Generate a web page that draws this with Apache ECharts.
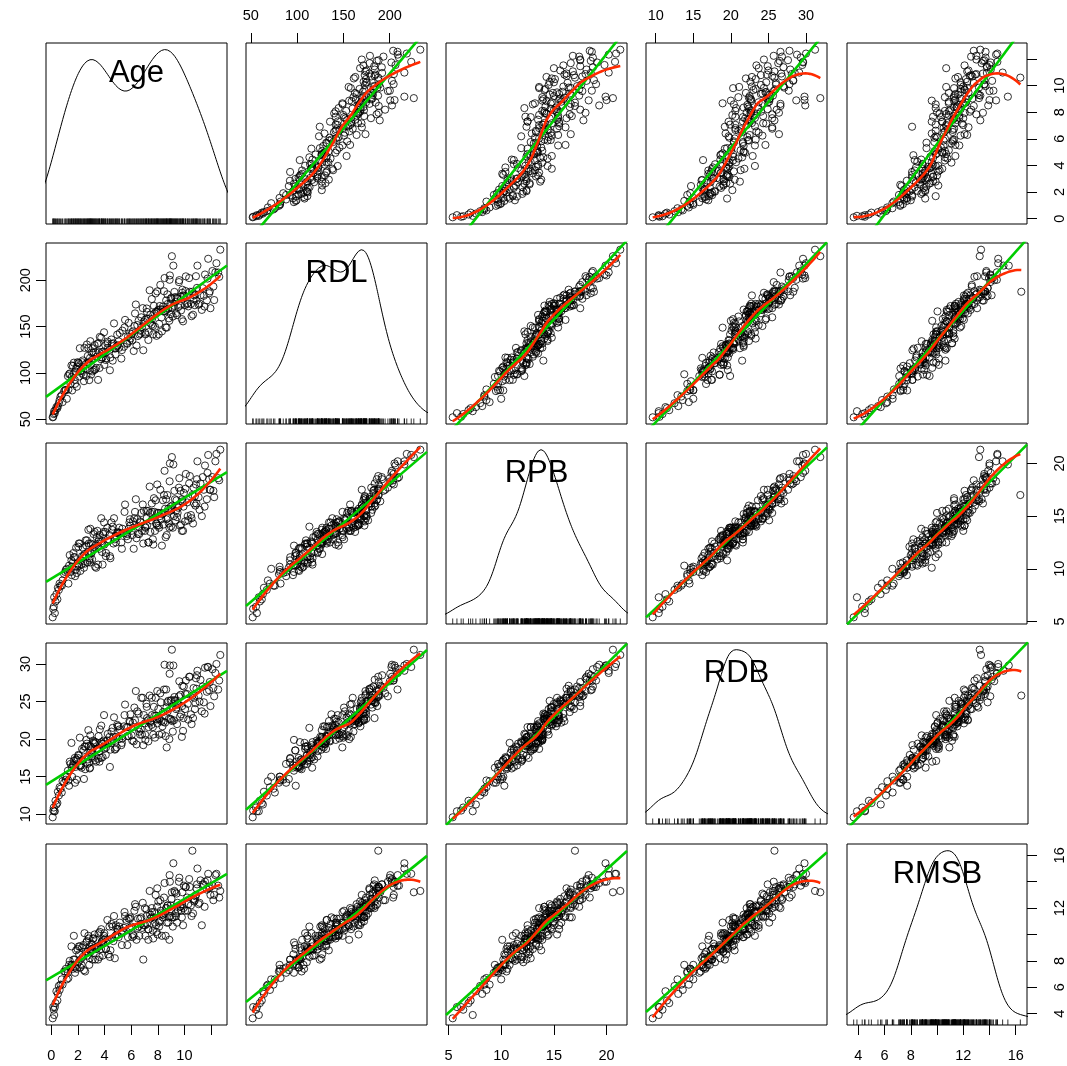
<!DOCTYPE html>
<html><head><meta charset="utf-8">
<script src="https://cdn.jsdelivr.net/npm/echarts@6/dist/echarts.min.js"></script>
<style>html,body{margin:0;padding:0;background:#fff}#c{width:1067px;height:1066px}</style>
</head><body><div id="c"></div>
<script>
const varNames = ['Age','RDL','RPB','RDB','RMSB'];

const Age = [0.10,0.14,0.21,0.26,0.31,0.38,0.49,0.56,0.69,0.84,0.96,
1.04,1.16,1.24,1.33,1.44,1.51,1.56,1.62,1.69,1.76,1.81,1.86,1.91,1.97,
2.03,2.09,2.14,2.21,2.27,2.36,2.41,2.49,2.54,2.63,2.67,2.74,2.81,2.85,2.91,2.93,2.99,
3.02,3.09,3.13,3.21,3.25,3.33,3.37,3.46,3.51,3.59,3.64,3.73,3.77,3.85,3.89,3.96,3.98,
4.06,4.11,4.21,4.27,4.37,4.44,4.56,4.61,4.71,4.77,4.86,4.91,4.99,
5.06,5.14,5.26,5.34,5.46,5.54,5.66,5.71,5.81,5.87,5.94,
6.03,6.13,6.19,6.29,6.35,6.46,6.51,6.61,6.67,6.76,6.81,6.91,6.95,
7.03,7.07,7.15,7.19,7.27,7.31,7.39,7.44,7.53,7.57,7.66,7.71,7.79,7.84,7.91,7.94,7.98,
8.04,8.07,8.15,8.19,8.27,8.31,8.39,8.43,8.51,8.55,8.63,8.67,8.75,8.79,8.87,8.91,8.97,8.99,
9.06,9.09,9.17,9.21,9.29,9.33,9.41,9.45,9.53,9.59,9.67,9.71,9.81,9.85,9.93,9.96,
10.05,10.11,10.21,10.29,10.41,10.49,10.60,10.65,10.73,10.79,10.87,10.91,10.98,
11.07,11.21,11.31,11.46,11.55,11.69,11.79,11.91,11.96,
12.11,12.24,12.41,12.54,12.70,
0.18,0.45,0.62,0.78, 1.09,1.28,1.38,1.53,1.66,1.78,1.93,
2.06,2.18,2.31,2.45,2.58,2.71,2.78,2.88,2.96, 3.06,3.17,3.29,3.41,3.55,3.62,3.75,3.81,3.93,
4.09,4.24,4.40,4.52,4.66,4.82,4.95, 5.10,5.30,5.50,5.76,5.91, 6.08,6.24,6.40,6.56,6.72,6.87,
7.05,7.17,7.29,7.42,7.55,7.63,7.75,7.87,7.96, 8.10,8.23,8.35,8.47,8.59,8.65,8.72,8.83,8.89,8.95,
9.03,9.13,9.25,9.37,9.49,9.62,9.75,9.83,9.90, 10.08,10.25,10.36,10.54,10.69,10.83,10.95,
11.14,11.38,11.52,11.74,11.86, 12.18,12.33,12.62];

const RDL = [52.0,52.5,58.6,56.5,59.7,63.0,64.1,67.2,74.4,68.4,80.3,
81.5,72.0,96.5,98.5,88.0,108.0,81.0,107.5,111.0,92.5,101.5,104.5,85.0,111.5,
110.4,96.0,126.6,101.8,99.8,113.4,97.8,127.0,104.8,96.6,130.6,118.4,111.2,92.2,116.2,134.2,98.2,
122.0,101.6,126.4,103.0,130.0,122.2,105.4,131.2,92.4,122.4,138.8,114.8,116.6,116.6,123.0,143.8,108.6,
129.8,115.6,131.8,127.0,125.0,116.6,131.2,113.2,153.4,126.2,126.6,128.8,129.8,
134.0,143.0,115.4,145.6,128.2,157.2,132.2,131.4,154.0,134.4,137.0,
141.8,144.8,123.6,164.2,173.8,151.6,139.8,141.4,145.6,160.0,149.4,124.4,155.2,
157.2,141.6,158.8,165.8,158.2,144.0,189.2,162.6,152.0,158.4,141.6,172.4,149.8,185.8,140.0,165.2,166.4,
168.0,141.6,172.2,195.0,159.8,144.8,171.6,166.2,202.4,166.6,178.2,148.8,174.4,169.4,156.2,205.2,180.0,163.6,
226.0,169.8,215.8,172.4,181.8,176.6,181.2,162.4,171.0,198.0,172.6,182.2,158.0,189.8,183.6,182.4,
173.2,204.2,174.4,171.8,187.6,174.4,187.6,162.8,183.6,173.0,204.4,178.0,215.8,
173.6,183.8,168.0,183.2,206.2,178.2,223.2,188.0,169.8,
210.0,178.6,218.4,208.4,233.0,
55.5,61.8,70.6,75.9, 81.4,82.1,99.3,95.5,98.7,88.1,106.8,
110.6,102.2,111.5,91.0,109.5,110.9,126.6,102.9,108.8, 114.2,121.8,103.6,117.4,132.3,105.3,138.0,122.4,121.0,
113.9,133.7,102.8,136.0,132.0,119.9,141.3, 127.1,124.6,149.0,139.1,142.7, 135.0,150.6,129.5,156.4,142.3,169.9,
143.5,169.5,135.5,154.0,179.7,150.7,164.1,166.3,188.0, 153.0,168.7,168.3,188.1,149.1,167.9,184.8,158.9,200.5,174.7,
181.2,160.8,187.4,164.4,179.9,200.1,167.4,186.5,155.6, 188.4,175.2,202.4,161.2,180.0,184.5,191.8,
174.9,191.4,171.6,201.8,186.0, 193.2,208.6,203.7];

const RPB = [5.4,6.2,7.3,5.8,6.9,7.6,8.2,8.0,8.4,8.9,9.5,
9.7,10.0,9.7,10.3,9.7,10.8,10.2,10.6,11.1,11.1,9.9,12.0,9.6,10.5,
12.1,10.3,12.4,10.8,10.4,12.0,11.2,11.4,10.5,12.2,12.7,11.6,12.4,10.8,10.6,13.8,11.5,
11.5,11.9,12.3,12.0,13.5,12.2,10.1,13.6,10.4,12.8,13.2,12.6,12.4,10.4,13.3,14.4,12.3,
13.5,11.5,13.9,12.6,13.2,11.0,13.7,14.0,14.8,12.8,12.5,13.1,13.5,
13.4,13.4,12.5,13.8,13.4,16.1,13.1,13.3,13.8,14.4,14.1,
13.6,14.5,11.9,15.4,16.6,14.7,13.3,13.3,14.5,15.3,13.6,12.4,15.5,
13.6,13.9,15.5,14.1,15.5,12.5,17.8,13.5,14.6,15.4,12.3,16.7,13.6,16.5,14.3,14.1,15.3,
15.3,14.1,15.0,17.5,14.7,12.2,16.5,14.2,19.3,15.7,16.6,13.2,14.8,15.7,13.9,20.0,15.9,14.0,
20.6,16.0,19.9,15.0,16.6,14.6,16.5,14.9,15.8,17.7,14.1,17.4,13.6,16.4,15.9,17.2,
14.5,19.0,16.3,14.6,18.8,15.1,17.0,14.3,16.2,16.9,18.0,16.2,20.2,
16.8,18.1,15.0,17.5,19.8,16.6,20.8,17.5,17.5,
18.7,16.8,20.9,18.6,21.3,
6.4,7.1,8.6,8.4, 9.9,8.6,11.3,9.4,11.5,9.3,10.2,
12.4,9.8,11.2,10.1,12.7,10.6,13.7,11.0,12.4, 10.9,13.3,10.2,13.0,12.6,11.9,14.8,11.6,13.5,
11.2,12.8,11.2,14.4,12.4,13.1,13.4, 13.9,11.9,15.4,12.8,14.7, 13.2,14.8,12.9,14.0,14.4,16.1,
14.0,14.8,12.5,15.3,16.2,12.8,15.4,14.3,18.0, 13.9,15.3,15.2,17.0,13.0,14.7,17.0,14.3,18.3,15.5,
15.6,13.9,17.4,15.5,15.3,18.6,14.2,16.6,13.6, 17.6,15.0,18.1,14.8,17.7,16.0,18.5,
15.6,18.7,15.9,19.1,18.5, 17.4,20.2,18.4];

const RDB = [9.6,10.5,10.4,10.4,11.8,11.3,13.0,12.5,13.4,14.4,14.2,
15.0,15.0,15.8,13.8,16.7,19.5,15.0,16.6,17.1,17.5,16.3,17.3,14.6,17.5,
17.9,16.5,20.2,16.5,16.2,17.2,18.5,19.0,16.0,19.9,19.4,17.3,19.1,16.9,16.2,20.5,18.5,
17.7,17.5,19.8,19.6,19.4,19.6,17.0,18.7,17.4,18.4,21.3,17.5,19.6,17.6,19.4,23.2,18.7,
19.7,18.9,19.8,19.4,20.3,18.6,19.7,21.5,22.9,18.6,20.3,18.9,21.7,
21.7,21.3,19.2,20.1,21.7,24.6,21.6,20.4,20.4,22.4,23.3,
20.5,22.2,19.7,22.5,26.4,23.7,21.5,21.0,20.6,25.5,20.6,19.2,23.2,
22.1,19.9,24.7,22.8,22.5,21.6,25.8,22.4,21.9,23.2,20.6,24.3,20.2,25.5,22.7,22.6,22.1,
24.0,22.7,22.7,26.1,22.4,20.7,23.6,22.3,29.9,22.2,26.6,18.9,23.7,25.1,20.0,29.8,25.1,22.6,
31.9,22.4,29.8,22.5,25.2,25.1,24.2,22.0,24.7,25.7,23.0,25.9,20.3,27.1,22.8,27.0,
24.0,27.8,26.0,22.6,28.3,23.3,25.8,22.8,25.5,24.0,28.1,26.7,29.1,
25.8,27.9,23.7,24.9,29.5,26.3,29.6,27.6,24.4,
29.3,25.7,30.0,26.6,31.2,
10.9,11.5,13.6,12.9, 14.6,14.5,17.0,16.2,16.5,14.2,17.2,
17.8,16.4,18.7,14.7,19.0,16.7,21.2,16.1,19.0, 18.2,19.5,17.2,18.6,20.4,17.0,21.8,19.4,19.8,
17.9,20.7,16.3,21.0,20.3,18.7,21.9, 20.0,19.5,23.2,21.6,22.3, 19.8,24.2,19.3,23.4,21.3,25.5,
20.6,24.3,19.7,22.2,25.5,21.6,23.1,23.1,26.4, 20.6,24.9,21.7,26.6,20.4,24.2,24.9,22.7,28.7,22.7,
25.2,21.0,25.6,24.0,24.6,27.7,23.3,24.4,21.1, 26.0,24.7,28.3,22.0,26.8,24.8,28.5,
25.0,27.0,23.4,29.6,26.5, 26.8,28.8,27.8];

const RMSB = [3.65,4.5,3.9,4.5,4.8,5.7,5.5,6.1,6.2,6.2,7.2,
7.2,6.6,7.1,7.7,7.5,9.1,7.7,7.4,9.9,8.1,7.5,8.8,7.4,8.9,
7.9,8.5,9.1,8.1,7.7,8.3,9.2,10.1,7.2,9.4,9.5,8.4,9.7,7.7,9.1,8.8,8.9,
9.3,8.1,9.7,9.0,10.0,8.9,9.6,9.1,8.1,9.1,10.2,8.9,9.4,8.4,9.3,9.9,10.1,
9.7,8.9,11.1,8.5,10.6,8.8,9.7,10.6,11.4,8.2,10.7,10.0,10.4,
9.8,10.9,10.1,10.3,10.5,11.4,11.1,9.2,11.2,10.5,11.3,
10.6,10.0,9.9,12.3,12.1,10.5,11.2,9.9,11.2,11.3,10.5,8.1,10.7,
12.0,9.9,11.9,10.8,10.4,10.4,13.3,11.2,11.3,11.7,9.7,11.3,10.9,13.0,10.2,12.1,10.0,
12.5,10.9,11.0,12.6,11.6,9.9,11.3,11.5,13.9,11.6,12.0,10.9,12.2,10.9,9.6,14.0,12.2,11.9,
13.2,11.3,15.4,11.3,13.2,11.6,13.1,10.9,11.8,14.0,12.1,12.1,11.3,13.2,12.0,13.7,
11.8,13.6,12.8,12.3,13.6,12.2,16.35,11.6,12.5,12.6,13.0,13.5,15.0,
12.3,14.1,10.7,13.8,14.0,13.4,14.6,13.6,13.0,
13.7,13.0,14.6,13.7,13.3,
4.3,5.0,5.8,6.6, 7.4,6.7,8.0,7.7,8.1,7.1,7.7,
9.1,7.5,9.0,7.3,8.7,8.7,9.9,8.2,8.7, 8.9,9.7,8.1,8.9,10.1,8.3,10.4,9.5,9.6,
8.9,9.6,8.3,10.8,9.5,9.9,10.4, 10.6,9.2,11.7,9.8,11.2, 9.8,11.8,9.6,10.6,10.8,12.4,
10.7,11.4,9.6,11.5,12.0,10.3,11.7,10.7,13.5, 10.6,11.8,11.5,12.8,9.9,12.0,12.2,11.3,14.5,11.4,
12.7,10.6,13.3,11.4,12.4,14.3,11.8,12.3,10.7, 13.6,11.8,14.2,11.4,12.7,12.9,13.8,
12.4,13.8,12.1,14.1,13.5, 12.6,14.5,12.8];

const tickValues = [[0,2,4,6,8,10,12],[50,100,150,200],[5,10,15,20],[10,15,20,25,30],[4,6,8,10,12,14,16]];
const tickLabels = [[0,2,4,6,8,10],[50,100,150,200],[5,10,15,20],[10,15,20,25,30],[4,6,8,12,16]];

const FONT = '"Liberation Sans", Arial, Helvetica, sans-serif';
const GREEN = '#00cd00', RED = '#ff2a00';
const vars = [Age, RDL, RPB, RDB, RMSB];
if (!vars.every(v => v.length === Age.length)) console.error('length mismatch', vars.map(v=>v.length));

function rng(a){let mn=Infinity,mx=-Infinity;for(const v of a){if(v<mn)mn=v;if(v>mx)mx=v;}return [mn,mx];}
const lims = vars.map(rng).map(([a,b])=>[a-0.04*(b-a), b+0.04*(b-a)]);

function ols(x,y){let mx=0,my=0;for(let k=0;k<x.length;k++){mx+=x[k];my+=y[k];}mx/=x.length;my/=y.length;
 let sxx=0,sxy=0;for(let k=0;k<x.length;k++){sxx+=(x[k]-mx)*(x[k]-mx);sxy+=(x[k]-mx)*(y[k]-my);}const b=sxy/sxx;return [my-b*mx,b];}

function solve3(A,b){
 const M=A.map((r,i)=>r.concat([b[i]]));
 for(let c=0;c<3;c++){let p=c;for(let r=c+1;r<3;r++)if(Math.abs(M[r][c])>Math.abs(M[p][c]))p=r;
  [M[c],M[p]]=[M[p],M[c]];for(let r=c+1;r<3;r++){const f=M[r][c]/M[c][c];for(let k=c;k<4;k++)M[r][k]-=f*M[c][k];}}
 const x=[0,0,0];for(let r=2;r>=0;r--){let s=M[r][3];for(let k=r+1;k<3;k++)s-=M[r][k]*x[k];x[r]=s/M[r][r];}return x;}

// local quadratic regression with tricube weights and bisquare robustness iterations
function loess(x,y,span,m){
 const N=x.length, q=Math.floor(span*N);const [mn,mx]=rng(x);
 function fitAt(x0,rw){
  const d=x.map(v=>Math.abs(v-x0));const ds=d.slice().sort((a,b)=>a-b);const h=Math.max(ds[q-1],1e-9)*1.0000001;
  let S=[0,0,0,0,0],T=[0,0,0];
  for(let k=0;k<N;k++){if(d[k]>=h)continue;const r=d[k]/h;const w=Math.pow(1-r*r*r,3)*rw[k];if(w<=0)continue;const u=x[k]-x0;
   let p=w;for(let e=0;e<5;e++){S[e]+=p;p*=u;}T[0]+=w*y[k];T[1]+=w*u*y[k];T[2]+=w*u*u*y[k];}
  return solve3([[S[0],S[1],S[2]],[S[1],S[2],S[3]],[S[2],S[3],S[4]]],T)[0];}
 let rw=new Array(N).fill(1);
 for(let it=0;it<4;it++){
  const res=x.map((v,k)=>y[k]-fitAt(v,rw));
  const ar=res.map(Math.abs).sort((a,b)=>a-b);const s=(ar[Math.floor((N-1)/2)]+ar[Math.ceil((N-1)/2)])/2||1e-9;
  rw=res.map(r=>{const u=r/(6*s);return Math.abs(u)<1?(1-u*u)*(1-u*u):0;});}
 const out=[];for(let t=0;t<m;t++){const x0=mn+(mx-mn)*t/(m-1);out.push([x0,fitAt(x0,rw)]);}
 return out;}

function quantile(s,p){const h=(s.length-1)*p;const lo=Math.floor(h);return s[lo]+(h-lo)*((s[Math.min(lo+1,s.length-1)])-s[lo]);}
function density(x){
 const N=x.length;let m=0;for(const v of x)m+=v;m/=N;let ss=0;for(const v of x)ss+=(v-m)*(v-m);const sd=Math.sqrt(ss/(N-1));
 const s=x.slice().sort((a,b)=>a-b);const iqr=quantile(s,0.75)-quantile(s,0.25);
 const bw=0.9*Math.min(sd,iqr/1.34)*Math.pow(N,-0.2);
 const [mn,mx]=rng(x);const from=mn-3*bw,to=mx+3*bw;const pts=[];
 for(let t=0;t<512;t++){const xv=from+(to-from)*t/511;let sum=0;for(const v of x){const z=(xv-v)/bw;sum+=Math.exp(-0.5*z*z);}
  pts.push([xv,sum/(N*bw*Math.sqrt(2*Math.PI))]);}
 const [dmn,dmx]=rng(pts.map(p=>p[1]));
 return pts.map(p=>[p[0], mn+p[1]*(mx-mn)/(dmx-dmn)]);}

const L=[], T=[], S=181;
for(let k=0;k<5;k++){L.push(Math.round(45.6+200.25*k));T.push(Math.round(42.6+200.25*k));}

const grids=[], xAxes=[], yAxes=[], series=[], graphics=[];
for(let i=0;i<5;i++){for(let j=0;j<5;j++){
 const idx=i*5+j;
 grids.push({left:L[j],top:T[i],width:S,height:S,show:true,borderColor:'#000',borderWidth:1,backgroundColor:'transparent'});
 const sb=(i===4&&j%2===0), st=(i===0&&j%2===1);
 xAxes.push({gridIndex:idx,type:'value',min:lims[j][0],max:lims[j][1],position:st?'top':'bottom',
  axisLine:{show:false,onZero:false},splitLine:{show:false},
  axisTick:{show:sb||st,length:10,customValues:tickValues[j],lineStyle:{color:'#000',width:1}},
  axisLabel:{show:sb||st,customValues:tickLabels[j],margin:st?20:23,fontSize:14.5,fontFamily:FONT,color:'#000'}});
 const sl=(j===0&&i%2===1), sr=(j===4&&i%2===0);
 yAxes.push({gridIndex:idx,type:'value',min:lims[i][0],max:lims[i][1],position:sr?'right':'left',
  axisLine:{show:false,onZero:false},splitLine:{show:false},
  axisTick:{show:sl||sr,length:10,customValues:tickValues[i],lineStyle:{color:'#000',width:1}},
  axisLabel:{show:sl||sr,customValues:tickLabels[i],rotate:90,margin:sl?13:25,fontSize:14.5,fontFamily:FONT,color:'#000'}});
 if(i===j){
  series.push({type:'line',xAxisIndex:idx,yAxisIndex:idx,data:density(vars[i]),showSymbol:false,symbol:'none',
   lineStyle:{color:'#000',width:1},silent:true,clip:true,z:2});
  series.push({type:'scatter',xAxisIndex:idx,yAxisIndex:idx,data:vars[i].map(v=>[v,lims[i][0]]),symbol:'rect',
   symbolSize:[1,5.5],symbolOffset:[0,-2.75],itemStyle:{color:'#000'},silent:true,z:2});
  graphics.push({type:'text',x:L[j]+S/2,y:T[i]+30,z:10,
   style:{text:varNames[i],fill:'#000',fontSize:31,fontFamily:FONT,align:'center',verticalAlign:'middle'}});
 } else {
  const x=vars[j], y=vars[i];
  series.push({type:'scatter',xAxisIndex:idx,yAxisIndex:idx,data:x.map((v,k)=>[v,y[k]]),symbol:'circle',symbolSize:7.2,
   itemStyle:{color:'rgba(0,0,0,0)',borderColor:'#000',borderWidth:1},silent:true,z:2});
  const [a,b]=ols(x,y);
  series.push({type:'line',xAxisIndex:idx,yAxisIndex:idx,data:[[lims[j][0],a+b*lims[j][0]],[lims[j][1],a+b*lims[j][1]]],
   showSymbol:false,symbol:'none',lineStyle:{color:GREEN,width:2.6},silent:true,clip:true,z:3});
  series.push({type:'line',xAxisIndex:idx,yAxisIndex:idx,data:loess(x,y,0.5,80),showSymbol:false,symbol:'none',
   lineStyle:{color:RED,width:2.6},silent:true,clip:true,z:4});
 }
}}

const chart=echarts.init(document.getElementById('c'),null,{renderer:'canvas'});
chart.setOption({animation:false,backgroundColor:'#fff',grid:grids,xAxis:xAxes,yAxis:yAxes,series:series,graphic:graphics});
</script></body></html>
